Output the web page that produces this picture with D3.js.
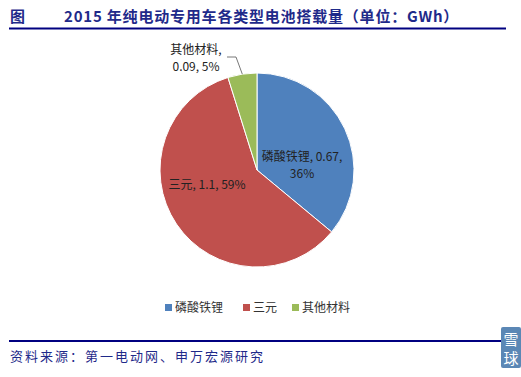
<!DOCTYPE html>
<html>
<head>
<meta charset="utf-8">
<script src="https://cdn.jsdelivr.net/npm/d3@7"></script>
<style>
  body { margin: 0; background: #fff; }
  text { font-family: "Noto Sans CJK SC", "Liberation Sans", sans-serif; }
</style>
</head>
<body>
<div id="chart"></div>
<script>
// data
const categories = ['磷酸铁锂', '三元', '其他材料'];
const values = [0.67, 1.1, 0.09];
const percents = ['36%', '59%', '5%'];
const colors = ['#4f81bd', '#c0504d', '#9bbb59'];

const width = 521, height = 377;
const svg = d3.select('#chart').append('svg')
  .attr('width', width)
  .attr('height', height);

// title bar
svg.append('text')
  .attr('x', 10).attr('y', 22)
  .attr('fill', '#1f2a8a')
  .attr('font-size', 15).attr('font-weight', 'bold')
  .text('图');
svg.append('text')
  .attr('x', 64).attr('y', 22)
  .attr('fill', '#1f2a8a')
  .attr('font-size', 15).attr('font-weight', 'bold')
  .attr('letter-spacing', 0.8)
  .text('2015 年纯电动专用车各类型电池搭载量（单位：GWh）');
svg.append('line')
  .attr('x1', 9).attr('x2', 506)
  .attr('y1', 28.5).attr('y2', 28.5)
  .attr('stroke', '#000080').attr('stroke-width', 2);

// pie
const cx = 257, cy = 170, r = 97;
const pie = d3.pie().sort(null).value(d => d);
const arcs = pie(values);
const arc = d3.arc().innerRadius(0).outerRadius(r);

const g = svg.append('g').attr('transform', `translate(${cx},${cy})`);
g.selectAll('path')
  .data(arcs)
  .enter()
  .append('path')
  .attr('d', arc)
  .attr('fill', (d, i) => colors[i])
  .attr('stroke', '#fff')
  .attr('stroke-width', 1);

// data labels
const labelSize = 12;
const labels = [
  { lines: [categories[0] + ', ' + values[0] + ',', percents[0]], x: 45, y: -9, anchor: 'middle' },
  { lines: [categories[1] + ', ' + values[1] + ', ' + percents[1]], x: -50, y: 19, anchor: 'middle' },
  { lines: [categories[2] + ',', values[2] + ', ' + percents[2]], x: -61, y: -116, anchor: 'middle' }
];
labels.forEach(l => {
  const t = g.append('text')
    .attr('text-anchor', l.anchor)
    .attr('font-size', labelSize)
    .attr('fill', '#222');
  l.lines.forEach((s, k) => {
    t.append('tspan').attr('x', l.x).attr('y', l.y + k * 17).text(s);
  });
});

// leader line for small slice
const gArc = arcs[2];
const mid = (gArc.startAngle + gArc.endAngle) / 2;
const p0 = [Math.sin(mid) * r, -Math.cos(mid) * r];
g.append('polyline')
  .attr('points', [[-30, -113], [-21, -113], [p0[0], p0[1]]].map(p => p.join(',')).join(' '))
  .attr('fill', 'none')
  .attr('stroke', '#555')
  .attr('stroke-width', 0.8);

// legend
const legendX = [165, 243, 292];
const legend = svg.append('g');
categories.forEach((c, i) => {
  legend.append('rect')
    .attr('x', legendX[i]).attr('y', 304)
    .attr('width', 7).attr('height', 7)
    .attr('fill', colors[i]);
  legend.append('text')
    .attr('x', legendX[i] + 10).attr('y', 312)
    .attr('font-size', 12)
    .attr('fill', '#333')
    .text(c);
});

// footer
svg.append('line')
  .attr('x1', 9).attr('x2', 506)
  .attr('y1', 341).attr('y2', 341)
  .attr('stroke', '#000080').attr('stroke-width', 2);
svg.append('text')
  .attr('x', 10).attr('y', 361)
  .attr('fill', '#1f2a8a')
  .attr('font-size', 13)
  .attr('letter-spacing', 2)
  .text('资料来源：第一电动网、申万宏源研究');

// watermark
svg.append('rect')
  .attr('x', 501).attr('y', 327)
  .attr('width', 20).attr('height', 41)
  .attr('rx', 2)
  .attr('fill', '#5b87b5');
svg.append('text')
  .attr('x', 511).attr('y', 345)
  .attr('text-anchor', 'middle')
  .attr('font-size', 15).attr('fill', '#fff')
  .text('雪');
svg.append('text')
  .attr('x', 511).attr('y', 364)
  .attr('text-anchor', 'middle')
  .attr('font-size', 15).attr('fill', '#fff')
  .text('球');
</script>
</body>
</html>
